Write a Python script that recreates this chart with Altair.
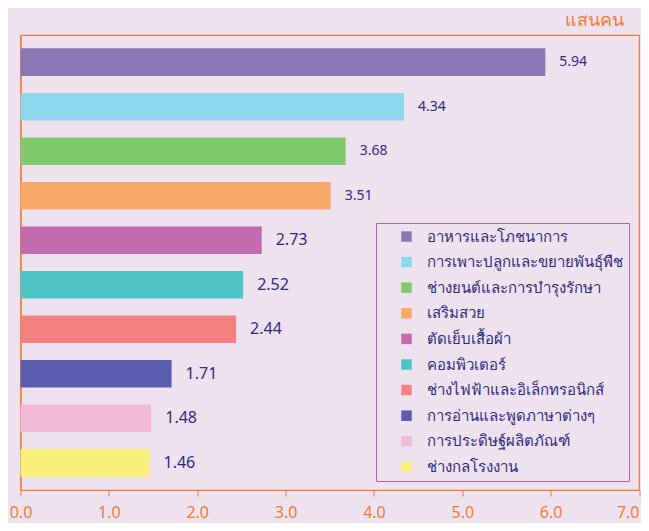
import altair as alt
import pandas as pd

categories = [
    "อาหารและโภชนาการ",
    "การเพาะปลูกและขยายพันธุ์พืช",
    "ช่างยนต์และการบำรุงรักษา",
    "เสริมสวย",
    "ตัดเย็บเสื้อผ้า",
    "คอมพิวเตอร์",
    "ช่างไฟฟ้าและอิเล็กทรอนิกส์",
    "การอ่านและพูดภาษาต่างๆ",
    "การประดิษฐ์ผลิตภัณฑ์",
    "ช่างกลโรงงาน",
]
values = [5.94, 4.34, 3.68, 3.51, 2.73, 2.52, 2.44, 1.71, 1.48, 1.46]
colors = [
    "#8A78B6", "#8DD7EE", "#80C96F", "#F8A96A", "#C26BAE",
    "#4EC4C7", "#F58080", "#5A5DAE", "#F2B9D8", "#F9F07C",
]
x_ticks = [0, 1, 2, 3, 4, 5, 6, 7]
unit_label = "แสนคน"

df = pd.DataFrame({"category": categories, "value": values})

ORANGE = "#EE7B32"
NAVY = "#2D2B7C"
BG = "#EFE2EF"
FONT = "Noto Sans"

y_enc = alt.Y(
    "category:N",
    sort=categories,
    scale=alt.Scale(paddingInner=0.38, paddingOuter=0.3),
    axis=alt.Axis(title=None, labels=False, ticks=False, domainColor=ORANGE,
                  domainWidth=1.2, grid=False),
)

bars = alt.Chart(df).mark_bar().encode(
    x=alt.X(
        "value:Q",
        scale=alt.Scale(domain=[0, 7], nice=False),
        axis=alt.Axis(
            title=None, values=x_ticks, format=".1f", grid=False,
            domainColor=ORANGE, domainWidth=1.2, tickColor=ORANGE, tickSize=6,
            labelColor=ORANGE, labelFontSize=16, labelFont=FONT,
            labelPadding=8, labelFlush=False,
            labelAlign=alt.condition("datum.value == 7", alt.value("right"), alt.value("center")),
        ),
    ),
    y=y_enc,
    color=alt.Color(
        "category:N",
        scale=alt.Scale(domain=categories, range=colors),
        legend=alt.Legend(
            title=None, orient="none", legendX=355.5, legendY=188,
            symbolType="square", symbolSize=110, symbolStrokeWidth=0,
            symbolOffset=17, labelOffset=13, labelFontSize=15,
            labelFont=FONT, labelColor=NAVY, labelLimit=400,
            rowPadding=9.6, padding=6, strokeColor="#B463A9",
            fillColor=BG,
        ),
    ),
)

texts = alt.Chart(df).mark_text(
    align="left", baseline="middle", dx=14, color=NAVY, font=FONT
).encode(
    x="value:Q",
    y=alt.Y("category:N", sort=categories),
    text=alt.Text("value:Q", format=".2f"),
    size=alt.condition("datum.value > 3", alt.value(14), alt.value(16)),
)

chart = (
    alt.layer(bars, texts)
    .properties(
        width=618.5,
        height=455,
        background=BG,
        autosize=alt.AutoSizeParams(type="none"),
        padding={"left": 12.5, "top": 27, "right": 2, "bottom": 33},
        title=alt.TitleParams(
            unit_label, anchor="end", color=ORANGE, fontSize=18,
            font=FONT, fontWeight="normal", dx=-16, offset=5,
        ),
    )
    .configure_view(stroke=ORANGE, strokeWidth=1.2, fill=BG)
)

chart.save("out.html", embed_options={"renderer": "svg", "actions": False})
